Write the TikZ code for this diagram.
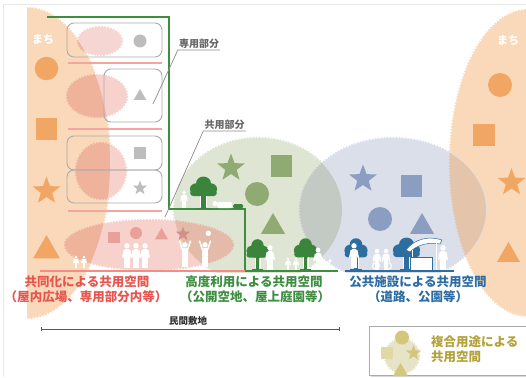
\documentclass[tikz,border=0pt]{standalone}
\usepackage{fontspec}
\newfontfamily\jp{Noto Sans CJK JP}
\usetikzlibrary{shapes.geometric,arrows.meta}

\definecolor{townfill}{HTML}{FAD9BA}
\definecolor{townshape}{HTML}{F2A664}
\definecolor{pinkfill}{HTML}{F7D2CD}
\definecolor{pinklight}{HTML}{F6D6D3}
\definecolor{pinkdeep}{HTML}{EFB39B}
\definecolor{pinkgreen}{HTML}{E4BBA8}
\definecolor{pinkshape}{HTML}{E8A098}
\definecolor{greenfill}{HTML}{DFE5D3}
\definecolor{greenshape}{HTML}{90AA73}
\definecolor{bluefill}{HTML}{DADFE9}
\definecolor{blueshape}{HTML}{8B9EC1}
\definecolor{greyblend}{HTML}{C3CAC4}
\definecolor{tanblend}{HTML}{E4C4AA}
\definecolor{treegreen}{HTML}{3A843C}
\definecolor{treeblue}{HTML}{2E6E9E}
\definecolor{txtred}{HTML}{E8554E}
\definecolor{txtgreen}{HTML}{3E8E41}
\definecolor{txtblue}{HTML}{2E6DA4}
\definecolor{boxgrey}{HTML}{ABABAB}
\definecolor{shapegrey}{HTML}{BDBDBD}
\definecolor{floorline}{HTML}{F2A6A0}
\definecolor{mixfill}{HTML}{E7E3C6}
\definecolor{mixshape}{HTML}{D3C77E}
\definecolor{mixtext}{HTML}{B3A23A}
\definecolor{framecol}{HTML}{E8E8E8}

\tikzset{
  blob/.style={fill=#1, draw=#1, line width=2.2pt, dash pattern=on 1.5pt off 1.5pt},
  shp/.style={inner sep=0pt, outer sep=0pt, draw=none},
  sq/.style={shp, rectangle, minimum size=#1},
  ci/.style={shp, circle, minimum size=#1},
  st/.style={shp, star, star points=5, star point ratio=2.4, minimum size=#1},
  tri/.style={shp, regular polygon, regular polygon sides=3, minimum size=#1},
  lab/.style={inner sep=0pt, font=\jp\bfseries\fontsize{12.5}{14}\selectfont},
  callout/.style={inner xsep=1pt, inner ysep=1.5pt, text=black!60, font=\jp\bfseries\fontsize{10}{12}\selectfont},
  leader/.style={draw=black!45, line width=0.7pt},
  town/.style={inner sep=0pt, text=white, font=\jp\bfseries\fontsize{11}{12}\selectfont},
  roombox/.style={draw=boxgrey, line width=0.9pt, rounded corners=7pt},
  ground/.style={line width=2pt},
  pics/person/.style={code={
    \fill[#1] (0,-22.2) circle (2.7);
    \fill[#1, rounded corners=1.2pt] (-2.9,-19) rectangle (2.9,-9.5);
    \fill[#1] (-2.6,-10) rectangle (-0.35,0);
    \fill[#1] (0.35,-10) rectangle (2.6,0);
    \draw[#1, line width=1.5pt, line cap=round] (-2.8,-17.5) -- (-4.2,-10.5) (2.8,-17.5) -- (4.2,-10.5);
  }},
  pics/cheer/.style={code={
    \fill[#1] (0,-22.2) circle (2.7);
    \fill[#1, rounded corners=1.2pt] (-2.9,-19) rectangle (2.9,-9.5);
    \fill[#1] (-2.6,-10) rectangle (-0.35,0);
    \fill[#1] (0.35,-10) rectangle (2.6,0);
    \draw[#1, line width=1.5pt, line cap=round] (-2.6,-17.5) -- (-5.5,-26) (2.6,-17.5) -- (5.5,-26);
  }},
  pics/tree/.style={code={
    \fill[#1] (0,-26) circle (6.4) (-6,-20) circle (5.8) (6,-20) circle (5.8)
              (-2,-19) circle (6) (2,-19) circle (6);
    \fill[#1, rounded corners=3pt] (-11.6,-19) rectangle (11.6,-13);
    \fill[#1] (-2,-13.5) rectangle (2,0);
    \draw[white, line width=0.6pt] (-2.6,-13) -- (-2.6,-1.6) (2.6,-13) -- (2.6,-1.6);
    \fill[#1] (-6,-1.3) rectangle (6,0);
  }}
}

% outlines of the areas
\def\townL{(27,163) ellipse [x radius=83, y radius=155]}
\def\townR{(528,163) ellipse [x radius=78, y radius=153]}
\def\greenG{(258,210) ellipse [x radius=84, y radius=72]}
\def\blueB{(393,210) ellipse [x radius=93, y radius=72]}
\def\pinkA{(100,41) ellipse [x radius=22, y radius=14]}
\def\pinkB{(97,96) ellipse [x radius=30, y radius=21]}
\def\pinkC{(101,171) ellipse [x radius=25, y radius=28]}
\def\pinkD{(149,245) ellipse [x radius=84, y radius=25]}

\begin{document}
\begin{tikzpicture}[x=1pt,y=-1pt]
\useasboundingbox (0,0) rectangle (526,377);
\fill[white] (0,0) rectangle (526,377);
\draw[framecol, line width=1.2pt] (3.5,377) -- (3.5,4.5) -- (526,4.5);

% towns on both sides
\begin{scope}
  \clip (27,0) rectangle (526,377);
  \fill[blob=townfill] \townL;
\end{scope}
\fill[blob=townfill] \townR;

% public spaces above ground
\begin{scope}
  \clip (0,0) rectangle (526,272);
  \fill[blob=greenfill] \greenG;
  \fill[blob=bluefill] \blueB;
  \begin{scope}
    \clip \greenG;
    \fill[blob=greyblend] \blueB;
  \end{scope}
  \begin{scope}
    \clip \blueB;
    \fill[blob=tanblend] \townR;
  \end{scope}
\end{scope}

% shared spaces inside the private building
\fill[blob=pinklight] \pinkA;
\fill[blob=pinkfill] \pinkB;
\fill[blob=pinkfill] \pinkC;
\fill[blob=pinkfill] \pinkD;
\begin{scope}
  \clip (27,0) rectangle (526,377);
  \clip \townL;
  \fill[blob=pinkdeep] \pinkA \pinkB \pinkC \pinkD;
\end{scope}
\begin{scope}
  \clip (0,0) rectangle (526,272);
  \clip \greenG;
  \fill[blob=pinkgreen] \pinkD;
\end{scope}

% town shapes
\node[ci=23.5, fill=townshape] (lc) at (46.5,68.5) {};
\node[sq=21.5, fill=townshape] (ls) at (46.5,129) {};
\node[st=29, fill=townshape] (lst) at (46.5,191) {};
\node[tri=31, fill=townshape] (lt) at (46.5,250.6) {};
\node[ci=24, fill=townshape] (rc) at (500,85) {};
\node[sq=22, fill=townshape] (rs) at (483.5,135) {};
\node[st=29, fill=townshape] (rst) at (511.5,182.5) {};
\node[tri=26.6, fill=townshape] (rt) at (508.5,255.3) {};
\node[town] (townLlabel) at (43,40) {まち};
\node[town] (townRlabel) at (508,41) {まち};

% rooms of the building
\draw[roombox] (67,23) rectangle (162,57);
\draw[roombox] (104,69) rectangle (162,122);
\draw[roombox] (67,136) rectangle (162,170);
\draw[roombox] (67,170) rectangle (162,203);
\draw[floorline, line width=1.2pt] (68,63) -- (162,63) (68,129) -- (162,129) (68,211) -- (162,211);
\node[ci=13, fill=shapegrey] (gc) at (140,41) {};
\node[tri=14.6, fill=shapegrey] (gt) at (140,96.3) {};
\node[sq=12, fill=shapegrey] (gs) at (140,153) {};
\node[st=15, fill=shapegrey] (gst) at (140,188) {};

% shapes in the ground floor plaza
\node[sq=11.5, fill=pinkshape] (ps) at (114,237.5) {};
\node[ci=12, fill=pinkshape] (pc) at (136,233) {};
\node[tri=15, fill=pinkshape] (pt) at (161.5,235.5) {};
\node[st=15, fill=pinkshape!90!black] (pst) at (183,234) {};
\node[ci=5.5, fill=white] (pball) at (208.3,233.3) {};

% green and blue shapes
\node[st=29, fill=greenshape] (gnst) at (231,168) {};
\node[sq=21.5, fill=greenshape] (gns) at (281.5,166) {};
\node[ci=24, fill=greenshape] (gnc) at (257,194) {};
\node[tri=27.8, fill=greenshape] (gnt) at (273,226.9) {};
\node[st=29, fill=blueshape] (blst) at (363,179) {};
\node[sq=21.5, fill=blueshape] (bls) at (411.5,186) {};
\node[ci=24, fill=blueshape] (blc) at (380,219) {};
\node[tri=27.8, fill=blueshape] (blt) at (422,226.9) {};

% building outline with the rooftop garden
\draw[txtgreen, line width=1.5pt] (47,17) -- (169,17) -- (169,209) -- (245,209) -- (245,271);
\draw[txtgreen, ground] (245,271) -- (338,271);
\draw[floorline!85!red, ground] (40,271) -- (245,271);
\draw[treeblue, ground] (345,271) -- (454,271);

% trees
\pic[xscale=1.15, yscale=1] at (203.5,209) {tree=treegreen};
\pic[scale=0.95] at (257.5,270) {tree=treegreen};
\pic[scale=0.98] at (305.5,270) {tree=treegreen};
\pic[scale=0.98] at (356,270) {tree=treeblue};
\pic[xscale=1.15, yscale=1] at (406.5,270) {tree=treeblue};

% people in the plaza
\pic[scale=0.5] at (76,268) {person=white};
\pic[scale=0.5] at (84,268) {person=white};
\pic at (127,268) {person=white};
\pic at (136,268) {person=white};
\pic at (145,268) {person=white};
\pic at (185,267) {cheer=white};
\pic at (205,267) {cheer=white};

% people on the roof
\pic[scale=0.7] at (184,208) {person=white};
\fill[white] (215,203.5) circle (2.4);
\fill[white, rounded corners=1.5pt] (217,202) rectangle (232,208);
\fill[treegreen, rounded corners=1.5pt] (233,204) rectangle (243,208.5);

% people in the open space
\pic at (270,270) {person=white};
\pic[scale=0.5] at (288,270) {person=white};
\pic[scale=0.5] at (296,270) {person=white};
\pic[scale=0.9] at (318,270) {person=white};
\fill[white] (326,264) ellipse [x radius=4, y radius=2];
\fill[white] (330,261) circle (1.8);
\draw[white, line width=1pt] (323.5,265) -- (323.5,270) (328.5,265) -- (328.5,270);

% people on the street and in the park
\pic at (354,268) {person=white};
\pic[scale=0.85] at (377,270) {person=white};
\pic[scale=0.85] at (386,270) {person=white};
\draw[white, line width=1pt] (376,266) circle (3.5) (388,266) circle (3.5);
\fill[white, draw=treeblue, line width=0.5pt] (406,250) .. controls (415,238) and (430,236) .. (442,240)
  -- (440,244) .. controls (430,242) and (418,244) .. (410,252) -- cycle;
\draw[white, line width=1pt] (412,250) -- (412,270) (436,243) -- (436,270);
\fill[white, draw=treeblue, line width=0.5pt] (410,257) rectangle (432,270);
\pic at (443,270) {person=white};

% callouts
\node[callout, anchor=south] (senyo) at (199,50) {専用部分};
\coordinate (senyoTip) at (153,104);
\draw[leader] (senyo.south east) -- (senyo.south west) -- (senyoTip);
\node[callout, anchor=south] (kyoyo) at (224.5,131) {共用部分};
\coordinate (kyoyoTip) at (165,217);
\draw[leader] (kyoyo.south east) -- (kyoyo.south west) -- (kyoyoTip);

% captions
\node[lab, text=txtred] (redA) at (87,282) {共同化による共用空間};
\node[lab, text=txtred] (redB) at (86,297) {（屋内広場、専用部分内等）};
\node[lab, text=txtgreen] (greenA) at (254,282) {高度利用による共用空間};
\node[lab, text=txtgreen] (greenB) at (255,297) {（公開空地、屋上庭園等）};
\node[lab, text=txtblue] (blueA) at (418,282) {公共施設による共用空間};
\node[lab, text=txtblue] (blueB) at (418,297) {（道路、公園等）};

% private site dimension
\coordinate (dimL) at (41,329);
\coordinate (dimR) at (340,329);
\draw[black!65, line width=0.8pt, {Bar[width=4pt]}-{Bar[width=4pt]}] (dimL) -- (dimR);
\node[inner sep=0pt, text=black!80, font=\jp\bfseries\fontsize{9.5}{11}\selectfont] (site) at (188,320.5) {民間敷地};

% legend
\fill[black!15] (370.5,327.5) rectangle (532,377);
\node[draw=boxgrey, fill=white, line width=0.8pt, anchor=north west, minimum width=161pt, minimum height=48.5pt, inner sep=0pt] (legend) at (369,326) {};
\fill[blob=mixfill] (402,356) circle (17);
\node[ci=14, fill=mixshape] (mc) at (402,337.5) {};
\node[sq=12, fill=mixshape!70!white] (ms) at (386.5,352.5) {};
\node[st=16, fill=mixshape] (mst) at (413.5,353) {};
\node[tri=17.4, fill=mixshape] (mt) at (400.5,371.7) {};
\node[lab, text=mixtext, anchor=west] (mixA) at (431,342) {複合用途による};
\node[lab, text=mixtext, anchor=west] (mixB) at (431,357) {共用空間};
\end{tikzpicture}
\end{document}
